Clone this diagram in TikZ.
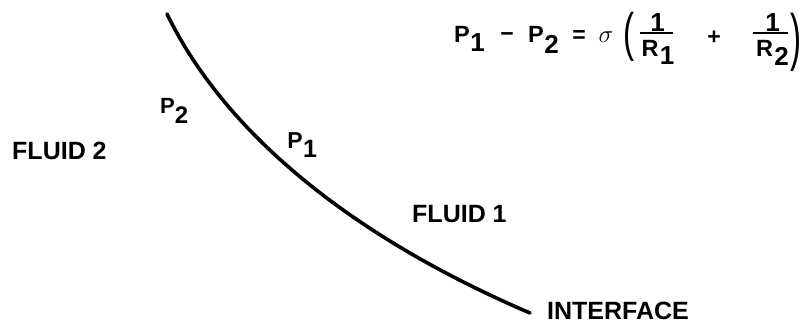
\documentclass[tikz,border=0pt]{standalone}
\usepackage{fontspec}
\setmainfont{Liberation Sans}
\begin{document}
\begin{tikzpicture}[x=1pt,y=-1pt,
  lbl/.style={font=\fontsize{25}{28}\selectfont\bfseries, inner sep=0pt, anchor=south west},
  glyph/.style={inner sep=0pt, font=\fontsize{#1}{#1}\selectfont\bfseries},
  paren/.style={inner sep=0pt, font=\fontsize{33}{33}\selectfont},
  iface/.style={line width=3.6pt, line cap=round},
  fbar/.style={line width=2pt}]
\useasboundingbox (0,0) rectangle (805,323);
% interface curve
\coordinate (s) at (167,14);
\coordinate (e) at (530,313);
\draw[iface] (s) .. controls (224,131) and (348,235) .. (e);
% labels
\node[lbl] (f2) at (12,160) {FLUID 2};
\node[lbl] (f1) at (412,223) {FLUID 1};
\node[lbl] (if) at (547,319.5) {INTERFACE};
\node[glyph=22] (p2P) at (167.5,105.5) {P};
\node[glyph=24] (p2s) at (181.5,115.5) {2};
\node[glyph=23] (p1P) at (295,141) {P};
\node[glyph=25] (p1s) at (310,149) {1};
% equation
\node[glyph=23.5] (eP1) at (462,34) {P};
\node[glyph=26] (eP1s) at (477.5,42.5) {1};
\node[glyph=23] (emin) at (507,37) {−};
\node[glyph=23.5] (eP2) at (536,34) {P};
\node[glyph=26] (eP2s) at (551.5,44.5) {2};
\node[glyph=23] (eeq) at (579,36.5) {=};
\node[inner sep=0pt, font=\fontsize{25}{25}\selectfont] (esig) at (606,37.5) {$\sigma$};
\node[paren] (elp) at (629,37) {\makebox[0pt]{\scalebox{1}[1.6]{(}}};
\node[glyph=26] (en1) at (657.5,22.5) {1};
\coordinate (b1l) at (640,33);
\coordinate (b1r) at (673,33);
\draw[fbar] (b1l) -- (b1r);
\node[glyph=23.5] (eR1) at (650,48.5) {R};
\node[glyph=26] (eR1s) at (667,56) {1};
\node[glyph=23] (eplus) at (714,37.5) {+};
\node[glyph=26] (en2) at (772.5,22.5) {1};
\coordinate (b2l) at (753,33);
\coordinate (b2r) at (788,33);
\draw[fbar] (b2l) -- (b2r);
\node[glyph=23.5] (eR2) at (764.5,48.5) {R};
\node[glyph=26] (eR2s) at (781.5,56.5) {2};
\node[paren] (erp) at (796,42.5) {\makebox[0pt]{\scalebox{1}[1.9]{)}}};
\end{tikzpicture}
\end{document}
